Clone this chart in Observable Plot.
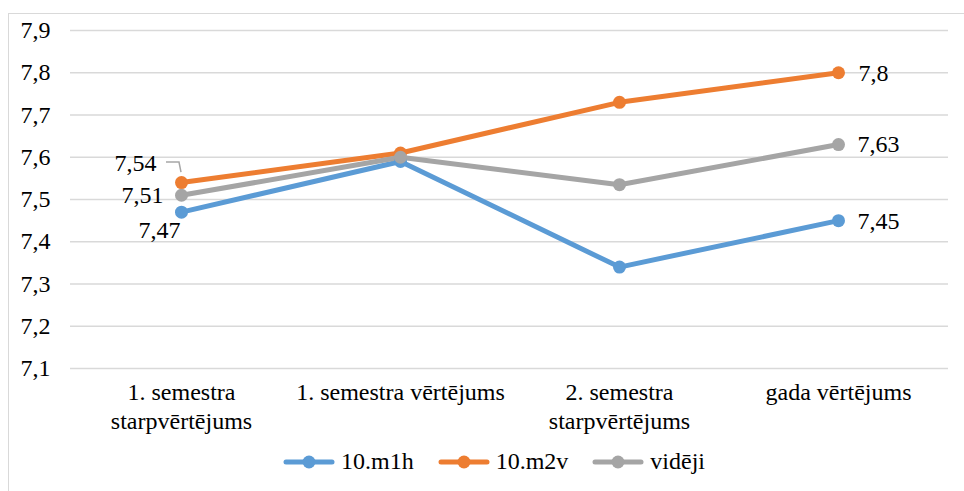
<!DOCTYPE html>
<html>
<head>
<meta charset="utf-8">
<script src="https://cdn.jsdelivr.net/npm/d3@7"></script>
<script src="https://cdn.jsdelivr.net/npm/@observablehq/plot@0.6"></script>
<style>
  html, body { margin: 0; padding: 0; background: #fff; }
  body { width: 964px; height: 491px; position: relative; overflow: hidden; font-family: "Liberation Serif", serif; }
  #frame { position: absolute; left: 8px; top: 13px; width: 1000px; height: 600px; border-left: 1.5px solid #d9d9d9; border-top: 1.5px solid #d9d9d9; }
  #chart { position: absolute; left: 0; top: 0; }
  #legend { position: absolute; left: 283px; top: 448px; display: flex; align-items: center; font-size: 24px; color: #000; }
  .item { display: flex; align-items: center; margin-right: 24px; }
  .item svg { margin-right: 6px; }
</style>
</head>
<body>
<div id="frame"></div>
<div id="chart"></div>
<div id="legend"></div>
<script>
// ---- data ----
const categories = ["1. semestra starpvērtējums", "1. semestra vērtējums", "2. semestra starpvērtējums", "gada vērtējums"];
const tickLabels = ["1. semestra\nstarpvērtējums", "1. semestra vērtējums", "2. semestra\nstarpvērtējums", "gada vērtējums"];
const seriesNames = ["10.m1h", "10.m2v", "vidēji"];
const seriesColors = ["#5B9BD5", "#ED7D31", "#A5A5A5"];
const m1h = [7.47, 7.59, 7.34, 7.45];
const m2v = [7.54, 7.61, 7.73, 7.80];
const videji = [7.51, 7.60, 7.535, 7.63];
const yTicks = [7.1, 7.2, 7.3, 7.4, 7.5, 7.6, 7.7, 7.8, 7.9];

const seriesValues = [m1h, m2v, videji];
const rows = [];
seriesNames.forEach((s, i) => categories.forEach((c, j) => rows.push({series: s, cat: c, value: seriesValues[i][j], idx: j})));
const fmt = v => (Math.round(v * 100) / 100).toString().replace(".", ",");
const firstOf = s => rows.filter(r => r.series === s && r.idx === 0);
const lastOf = s => rows.filter(r => r.series === s && r.idx === categories.length - 1);

const font = "'Liberation Serif', serif";
const chart = Plot.plot({
  width: 964,
  height: 445,
  marginLeft: 70,
  marginRight: 16,
  marginTop: 30,
  marginBottom: 77,
  style: {fontFamily: font, fontSize: "24px", color: "#000", background: "transparent"},
  x: {type: "point", domain: categories, padding: 0.5, label: null},
  y: {domain: [7.1, 7.9], label: null},
  color: {domain: seriesNames, range: seriesColors},
  marks: [
    Plot.gridY(yTicks, {stroke: "#d9d9d9", strokeOpacity: 1, strokeWidth: 1.5}),
    Plot.axisY(yTicks, {tickSize: 0, tickPadding: 20, tickFormat: d => d.toFixed(1).replace(".", ","), fontSize: 24, fontFamily: font, label: null}),
    Plot.axisX({tickSize: 0, tickPadding: 11, tickFormat: d => tickLabels[categories.indexOf(d)], lineHeight: 1.2, fontSize: 24, fontFamily: font, label: null}),
    Plot.line(rows, {x: "cat", y: "value", stroke: "series", z: "series", strokeWidth: 5, strokeLinecap: "round", strokeLinejoin: "round"}),
    Plot.dot(rows, {x: "cat", y: "value", fill: "series", r: 6.5}),
    // left labels
    Plot.text(firstOf("10.m2v"), {x: "cat", y: "value", text: d => fmt(d.value), textAnchor: "end", dx: -25, dy: -19, fontSize: 24, fontFamily: font}),
    Plot.text(firstOf("vidēji"), {x: "cat", y: "value", text: d => fmt(d.value), textAnchor: "end", dx: -18, dy: 0, fontSize: 24, fontFamily: font}),
    Plot.text(firstOf("10.m1h"), {x: "cat", y: "value", text: d => fmt(d.value), textAnchor: "end", dx: -1, dy: 18, fontSize: 24, fontFamily: font}),
    // right labels
    Plot.text(lastOf("10.m2v"), {x: "cat", y: "value", text: d => fmt(d.value), textAnchor: "start", dx: 20, dy: 1, fontSize: 24, fontFamily: font}),
    Plot.text(lastOf("vidēji"), {x: "cat", y: "value", text: d => fmt(d.value), textAnchor: "start", dx: 19, dy: 0, fontSize: 24, fontFamily: font}),
    Plot.text(lastOf("10.m1h"), {x: "cat", y: "value", text: d => fmt(d.value), textAnchor: "start", dx: 19, dy: 1, fontSize: 24, fontFamily: font})
  ]
});
document.getElementById("chart").appendChild(chart);

// leader line for the first 10.m2v label, placed through the plot's scales
const sx = chart.scale("x"), sy = chart.scale("y");
const px = sx.apply(categories[0]), py = sy.apply(m2v[0]);
d3.select(chart).append("path")
  .attr("d", `M${px - 15},${py - 20}h13l2,10`)
  .attr("fill", "none").attr("stroke", "#a6a6a6").attr("stroke-width", 1.5);

// legend
const legend = d3.select("#legend");
seriesNames.forEach((s, i) => {
  const item = legend.append("div").attr("class", "item");
  const svg = item.append("svg").attr("width", 52).attr("height", 16);
  svg.append("line").attr("x1", 3).attr("x2", 49).attr("y1", 8).attr("y2", 8)
    .attr("stroke", seriesColors[i]).attr("stroke-width", 5).attr("stroke-linecap", "round");
  svg.append("circle").attr("cx", 26).attr("cy", 8).attr("r", 6.5).attr("fill", seriesColors[i]);
  item.append("span").text(s);
});
</script>
</body>
</html>
